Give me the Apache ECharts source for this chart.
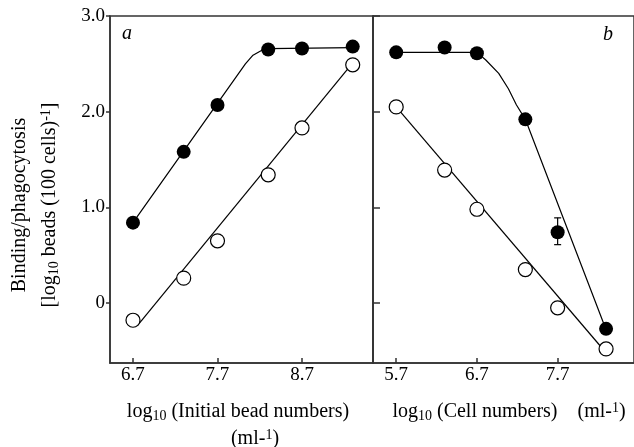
<!DOCTYPE html>
<html>
<head>
<meta charset="utf-8">
<script src="https://cdn.jsdelivr.net/npm/echarts@6/dist/echarts.min.js"></script>
<style>
  html, body { margin: 0; padding: 0; background: #fff; }
  #chart { width: 634px; height: 447px; }
</style>
</head>
<body>
<div id="chart"></div>
<script>
// panel a : log10 initial bead numbers
const beadX = [6.7, 7.3, 7.7, 8.3, 8.7, 9.3];
const beadFilled = [0.84, 1.58, 2.07, 2.65, 2.66, 2.68];
const beadOpen = [-0.18, 0.26, 0.65, 1.34, 1.83, 2.49];

// panel b : log10 cell numbers
const cellX = [5.7, 6.3, 6.7, 7.3, 7.7, 8.3];
const cellFilled = [2.62, 2.67, 2.61, 1.92, 0.74, -0.27];
const cellOpen = [2.05, 1.39, 0.98, 0.35, -0.05, -0.48];
// [x, low, high]
const cellErr = [[7.7, 0.61, 0.89]];

// hand drawn curves through the points
const fitBeadFilled = [[6.7, 0.84], [8.03, 2.5], [8.12, 2.59], [8.22, 2.64], [8.3, 2.66], [9.3, 2.67]];
const fitBeadOpen = [[6.75, -0.24], [9.3, 2.51]];
const fitCellFilled = [[5.7, 2.62], [6.7, 2.62], [6.81, 2.54], [6.97, 2.4], [7.09, 2.24], [7.19, 2.07], [7.3, 1.92], [8.3, -0.28]];
const fitCellOpen = [[5.7, 2.05], [8.3, -0.52]];

// ticks
const beadTicks = [6.7, 7.7, 8.7];
const cellTicks = [5.7, 6.7, 7.7];
const yTicks = [0, 1, 2, 3];
const yTickLabels = ['0', '1.0', '2.0', '3.0'];

const serif = '"Liberation Serif", "DejaVu Serif", serif';
const ink = '#000';
const axisCol = '#333';

const pairs = (xs, ys) => xs.map((x, i) => [x, ys[i]]);

const myChart = echarts.init(document.getElementById('chart'));

const axisLine = { show: true, onZero: false, lineStyle: { color: axisCol, width: 1.5 } };
const rich = {
  n: { fontFamily: serif, fontSize: 20, lineHeight: 22, color: ink },
  s: { fontFamily: serif, fontSize: 14, lineHeight: 12, verticalAlign: 'bottom', color: ink },
  p: { fontFamily: serif, fontSize: 14, lineHeight: 16, verticalAlign: 'top', color: ink }
};

function xAxisCfg(idx, min, max, ticks) {
  return {
    type: 'value', gridIndex: idx, min: min, max: max,
    axisLine: axisLine,
    splitLine: { show: false },
    axisTick: { show: true, inside: true, length: 5, customValues: ticks, lineStyle: { color: axisCol, width: 1.5 } },
    axisLabel: { customValues: ticks, margin: 3, fontFamily: serif, fontSize: 19, color: ink, formatter: v => v.toFixed(1) }
  };
}

const filledStyle = { color: ink, opacity: 1 };
const openStyle = { color: '#fff', borderColor: ink, borderWidth: 1.2, opacity: 1 };

function fit(data, xi) {
  return { type: 'line', xAxisIndex: xi, yAxisIndex: xi, data: data, showSymbol: false, symbol: 'none',
    lineStyle: { color: ink, width: 1.2 }, silent: true, z: 2 };
}
function dots(data, xi, style) {
  return { type: 'scatter', xAxisIndex: xi, yAxisIndex: xi, data: data, symbol: 'circle', symbolSize: 14,
    itemStyle: style, z: 4 };
}

myChart.setOption({
  animation: false,
  grid: [
    { left: 110, top: 16, width: 263, height: 347, show: true, borderColor: axisCol, borderWidth: 1.5 },
    { left: 373, top: 16, width: 270, height: 347, show: true, borderColor: axisCol, borderWidth: 1.5 }
  ],
  xAxis: [
    xAxisCfg(0, 6.428, 9.54, beadTicks),
    xAxisCfg(1, 5.4126, 8.646, cellTicks)
  ],
  yAxis: [
    {
      type: 'value', gridIndex: 0, min: -0.627, max: 3.0,
      axisLine: axisLine, splitLine: { show: false },
      axisTick: { show: true, length: 4, customValues: yTicks, lineStyle: { color: axisCol, width: 1.5 } },
      axisLabel: { customValues: yTicks, margin: 5, fontFamily: serif, fontSize: 19, color: ink,
        formatter: v => yTickLabels[yTicks.indexOf(Math.round(v))] }
    },
    {
      type: 'value', gridIndex: 1, min: -0.627, max: 3.0,
      axisLine: axisLine, splitLine: { show: false },
      axisTick: { show: true, inside: true, length: 7, customValues: yTicks, lineStyle: { color: axisCol, width: 1.5 } },
      axisLabel: { show: false }
    }
  ],
  graphic: [
    { type: 'text', x: 122, y: 24, style: { text: 'a', font: 'italic 20px ' + serif, fill: ink } },
    { type: 'text', x: 603, y: 25, style: { text: 'b', font: 'italic 20px ' + serif, fill: ink } },
    { type: 'text', x: 20, y: 205, rotation: Math.PI / 2,
      style: { text: '{n|Binding/phagocytosis}', rich: rich, align: 'center', verticalAlign: 'middle' } },
    { type: 'text', x: 50, y: 205, rotation: Math.PI / 2,
      style: { text: '{n|[log}{s|10}{n| beads (100 cells)}{p|-1}{n|]}', rich: rich, align: 'center', verticalAlign: 'middle' } },
    { type: 'text', x: 238, y: 412,
      style: { text: '{n|log}{s|10}{n| (Initial bead numbers)}', rich: rich, align: 'center', verticalAlign: 'middle' } },
    { type: 'text', x: 255, y: 439,
      style: { text: '{n|(ml-}{p|1}{n|)}', rich: rich, align: 'center', verticalAlign: 'middle' } },
    { type: 'text', x: 509, y: 412,
      style: { text: '{n|log}{s|10}{n| (Cell numbers)    (ml-}{p|1}{n|)}', rich: rich, align: 'center', verticalAlign: 'middle' } }
  ],
  series: [
    fit(fitBeadFilled, 0),
    fit(fitBeadOpen, 0),
    fit(fitCellFilled, 1),
    fit(fitCellOpen, 1),
    {
      type: 'custom', xAxisIndex: 1, yAxisIndex: 1, data: cellErr, z: 3, silent: true,
      renderItem: function (params, api) {
        const top = api.coord([api.value(0), api.value(2)]);
        const bot = api.coord([api.value(0), api.value(1)]);
        const w = 3.5;
        const st = { stroke: ink, lineWidth: 1.2 };
        return { type: 'group', children: [
          { type: 'line', shape: { x1: top[0], y1: top[1], x2: bot[0], y2: bot[1] }, style: st },
          { type: 'line', shape: { x1: top[0] - w, y1: top[1], x2: top[0] + w, y2: top[1] }, style: st },
          { type: 'line', shape: { x1: bot[0] - w, y1: bot[1], x2: bot[0] + w, y2: bot[1] }, style: st }
        ] };
      }
    },
    dots(pairs(beadX, beadFilled), 0, filledStyle),
    dots(pairs(beadX, beadOpen), 0, openStyle),
    dots(pairs(cellX, cellFilled), 1, filledStyle),
    dots(pairs(cellX, cellOpen), 1, openStyle)
  ]
});
</script>
</body>
</html>
